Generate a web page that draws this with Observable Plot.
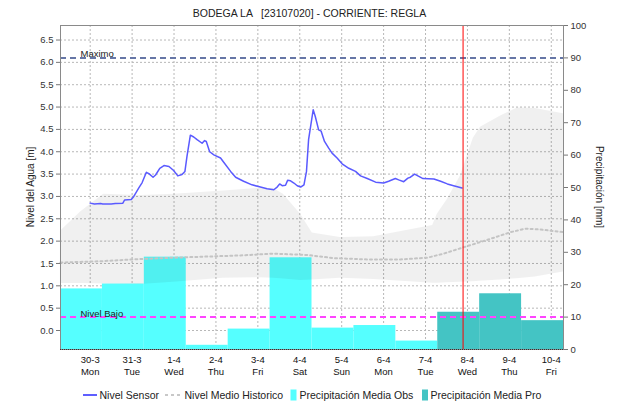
<!DOCTYPE html>
<html><head><meta charset="utf-8">
<script src="https://cdn.jsdelivr.net/npm/d3@7"></script>
<script src="https://cdn.jsdelivr.net/npm/@observablehq/plot@0.6"></script>
<style>
body{margin:0;background:#fff;}
#chart{width:618px;height:402px;position:relative;}
</style></head><body><div id="chart"></div>
<script>
// ---- data ----
const titleText = "BODEGA LA   [23107020] - CORRIENTE: REGLA";
const dayLabels = ["30-3","31-3","1-4","2-4","3-4","4-4","5-4","6-4","7-4","8-4","9-4","10-4"];
const weekdayLabels = ["Mon","Tue","Wed","Thu","Fri","Sat","Sun","Mon","Tue","Wed","Thu","Fri"];
const levelTicks = [0,0.5,1,1.5,2,2.5,3,3.5,4,4.5,5,5.5,6,6.5];
const precipTicks = [0,10,20,30,40,50,60,70,80,90,100];

// precipitation (mm), daily 07:00 -> 07:00
const precipObsStart = ["2020-03-29T07:00Z","2020-03-30T07:00Z","2020-03-31T07:00Z","2020-04-01T07:00Z","2020-04-02T07:00Z","2020-04-03T07:00Z","2020-04-04T07:00Z","2020-04-05T07:00Z","2020-04-06T07:00Z"];
const precipObs = [18.7, 20.2, 28.5, 1.3, 6.3, 28.3, 6.6, 7.4, 2.6];
const precipProStart = ["2020-04-07T07:00Z","2020-04-08T07:00Z","2020-04-09T07:00Z"];
const precipPro = [11.5, 17.2, 8.9];

// sensor level (m); time in days from 2020-03-30 00:00
const sensorT = [0,0.1,0.25,0.3,0.5,0.6,0.78,0.82,0.98,1.04,1.16,1.24,1.34,1.40,1.50,1.56,1.66,1.76,1.88,1.99,2.09,2.19,2.26,2.31,2.39,2.47,2.55,2.67,2.73,2.77,2.85,2.95,3.11,3.19,3.35,3.47,3.66,3.86,4.06,4.22,4.38,4.46,4.52,4.58,4.66,4.71,4.78,4.86,4.94,5.02,5.10,5.16,5.21,5.32,5.37,5.45,5.51,5.59,5.69,5.77,5.89,6.01,6.17,6.33,6.45,6.61,6.81,7.00,7.12,7.28,7.36,7.48,7.58,7.64,7.74,7.84,7.94,8.20,8.36,8.52,8.67,8.87];
const sensorM = [2.85,2.83,2.84,2.83,2.83,2.84,2.85,2.92,2.93,3.0,3.19,3.31,3.54,3.51,3.43,3.48,3.63,3.69,3.67,3.58,3.46,3.49,3.56,3.90,4.37,4.33,4.27,4.19,4.25,4.23,4.00,3.93,3.86,3.76,3.56,3.43,3.34,3.26,3.21,3.17,3.15,3.21,3.28,3.24,3.25,3.36,3.35,3.30,3.24,3.21,3.26,3.56,4.27,4.94,4.79,4.49,4.46,4.23,4.08,3.97,3.86,3.73,3.63,3.56,3.46,3.40,3.32,3.30,3.34,3.40,3.37,3.33,3.41,3.43,3.50,3.45,3.40,3.39,3.34,3.28,3.24,3.19];

// historical mean level (m)
const histT = [-0.71,0.25,1.2,2.32,3.59,4.37,5.18,5.81,6.62,7.40,8.05,8.43,8.90,9.48,10.03,10.38,10.74,11.29];
const histM = [1.52,1.55,1.6,1.64,1.68,1.72,1.69,1.62,1.59,1.59,1.63,1.72,1.86,2.03,2.2,2.28,2.26,2.2];

// historical range band (m)
const bandT  = [-0.71,-0.23,0.32,1.20,1.99,3.18,3.99,4.37,4.61,5.02,5.30,5.97,6.76,8.17,8.28,8.52,8.83,9.14,9.31,9.79,10.19,10.62,11.29];
const bandHi = [2.22,2.65,3.05,3.02,3.05,3.12,3.18,3.18,3.05,2.6,2.18,2.08,2.1,2.35,2.6,2.93,3.45,4.3,4.55,4.8,4.98,4.97,4.85];
const bandLo = [1.05,1.05,1.04,1.03,1.08,1.17,1.18,1.17,1.15,1.12,1.13,1.17,1.14,1.06,1.06,1.07,1.08,1.09,1.1,1.13,1.16,1.2,1.31];

const levelMax = 6.1, levelLow = 0.3;
const nowTime = "2020-04-07T21:30Z";

// ---- scales helpers ----
const BASE = Date.UTC(2020, 2, 30);
const DAY = 864e5;
const T = d => new Date(BASE + d * DAY);
// meters <-> mm (both axes share the plot): 0.3 m = 10 mm, 6.1 m = 90 mm
const toMM = m => (m - levelLow) / ((levelMax - levelLow) / 80) + 10;
const levelLabel = new Map(levelTicks.map(m => [toMM(m), m.toFixed(1)]));

const xTicks = dayLabels.map((_, i) => T(i));
const xFmt = d => { const i = Math.round((+d - BASE) / DAY); return dayLabels[i] + "\n" + weekdayLabels[i]; };

const obsRows = precipObs.map((v, i) => ({x1: new Date(precipObsStart[i]), x2: new Date(+new Date(precipObsStart[i]) + DAY), v}));
const proRows = precipPro.map((v, i) => ({x1: new Date(precipProStart[i]), x2: new Date(+new Date(precipProStart[i]) + DAY), v}));
const sensorRows = sensorT.map((t, i) => ({x: T(t), y: toMM(sensorM[i])}));
const histRows = histT.map((t, i) => ({x: T(t), y: toMM(histM[i])}));
const bandRows = bandT.map((t, i) => ({x: T(t), lo: toMM(bandLo[i]), hi: toMM(bandHi[i])}));

const FONT = "'Liberation Sans', Arial, sans-serif";
const gridStyle = {stroke: "#b8b8b8", strokeOpacity: 1, strokeDasharray: "2,2"};

const chart = Plot.plot({
  width: 618, height: 402,
  marginLeft: 60, marginRight: 55, marginTop: 25, marginBottom: 53,
  style: {fontFamily: FONT, fontSize: "9.5px", background: "#fff", color: "#333"},
  x: {type: "utc", domain: [T(-17/24), T(11 + 7/24)]},
  y: {domain: [0, 100]},
  marks: [
    Plot.gridX(xTicks, gridStyle),
    Plot.gridY(levelTicks.map(toMM), gridStyle),
    Plot.rect(obsRows, {x1: "x1", x2: "x2", y1: () => 0, y2: "v", fill: "#55ffff"}),
    Plot.rect(proRows, {x1: "x1", x2: "x2", y1: () => 0, y2: "v", fill: "#44c4c4"}),
    Plot.areaY(bandRows, {x: "x", y1: "lo", y2: "hi", fill: "#000", fillOpacity: 0.06}),
    Plot.line(histRows, {x: "x", y: "y", stroke: "#c4c4c4", strokeWidth: 2, strokeDasharray: "2,3"}),
    Plot.ruleY([toMM(levelMax)], {stroke: "#6676a6", strokeWidth: 2, strokeDasharray: "6,4"}),
    Plot.ruleY([toMM(levelLow)], {stroke: "#ff44ff", strokeWidth: 2, strokeDasharray: "6,4"}),
    Plot.text(["Maximo"], {frameAnchor: "left", y: toMM(levelMax), dx: 20, dy: -1, lineAnchor: "bottom", textAnchor: "start", fontSize: 9.5, fill: "#222"}),
    Plot.text(["Nivel Bajo"], {frameAnchor: "left", y: toMM(levelLow), dx: 20, dy: 0, lineAnchor: "bottom", textAnchor: "start", fontSize: 9.5, fill: "#222"}),
    Plot.line(sensorRows, {x: "x", y: "y", stroke: "#5a5aff", strokeWidth: 1.5}),
    Plot.ruleX([new Date(nowTime)], {stroke: "#ff0000", strokeWidth: 1}),
    Plot.frame({stroke: "#8a8a8a"}),
    Plot.ruleY([0], {stroke: "#333", strokeDasharray: "1,1"}),
    Plot.axisY(levelTicks.map(toMM), {anchor: "left", tickFormat: d => levelLabel.get(d), tickSize: 4, tickPadding: 3, fontSize: 9.5, label: null, stroke: "#777", fill: "#333"}),
    Plot.axisY(precipTicks, {anchor: "right", tickSize: 4, tickPadding: 3, fontSize: 9.5, label: null, stroke: "#777", fill: "#333"}),
    Plot.axisX(xTicks, {anchor: "bottom", tickSize: 0, tickPadding: 4, tickFormat: xFmt, fontSize: 9.5, lineHeight: 1.35, label: null, fill: "#111"})
  ]
});
document.getElementById("chart").appendChild(chart);

// ---- title, axis titles, legend ----
const svg = d3.select(chart);
const txt = (x, y, s, size, anchor = "start") => svg.append("text")
  .attr("x", x).attr("y", y).attr("text-anchor", anchor)
  .style("font-family", FONT).style("font-size", size + "px").style("white-space", "pre")
  .attr("fill", "#222").text(s);
txt(309.5, 16.5, titleText, 10.5, "middle");

svg.append("text").attr("transform", "translate(33.5,187) rotate(-90)").attr("text-anchor", "middle")
  .style("font-family", FONT).style("font-size", "10px").attr("fill", "#222").text("Nivel del Agua [m]");
svg.append("text").attr("transform", "translate(596,187) rotate(90)").attr("text-anchor", "middle")
  .style("font-family", FONT).style("font-size", "10px").attr("fill", "#222").text("Precipitación [mm]");

const ly = 395;
svg.append("line").attr("x1", 83).attr("x2", 97).attr("y1", ly).attr("y2", ly).attr("stroke", "#2a2aff").attr("stroke-width", 1.5);
txt(99.5, ly + 3.8, "Nivel Sensor", 10.5);
svg.append("line").attr("x1", 165).attr("x2", 182).attr("y1", ly).attr("y2", ly).attr("stroke", "#c8c8c8").attr("stroke-width", 2).attr("stroke-dasharray", "3,3");
txt(184.5, ly + 3.8, "Nivel Medio Historico", 10.5);
svg.append("rect").attr("x", 290.5).attr("y", ly - 5.5).attr("width", 6).attr("height", 11).attr("fill", "#55ffff");
txt(299.5, ly + 3.8, "Precipitación Media Obs", 10.5);
svg.append("rect").attr("x", 422).attr("y", ly - 5.5).attr("width", 6).attr("height", 11).attr("fill", "#44c4c4");
txt(430.5, ly + 3.8, "Precipitación Media Pro", 10.5);
</script></body></html>
